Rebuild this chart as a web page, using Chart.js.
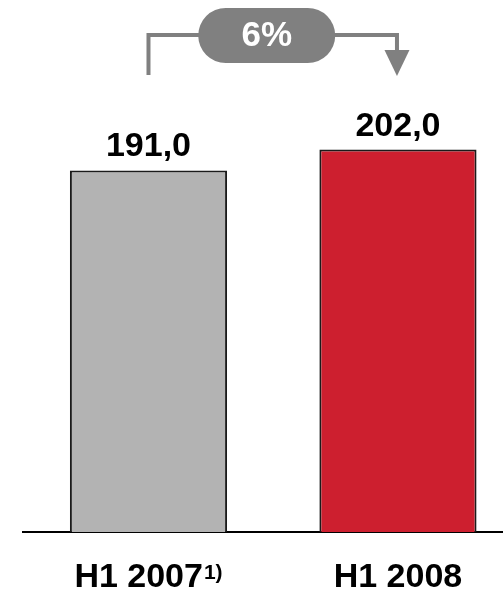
<!DOCTYPE html>
<html>
<head>
<meta charset="utf-8">
<script src="https://cdn.jsdelivr.net/npm/chart.js@4/dist/chart.umd.min.js"></script>
<style>
html,body{margin:0;padding:0;background:#fff;overflow:hidden}
#wrap{width:503px;height:593px;position:relative}
</style>
</head>
<body>
<div id="wrap"><canvas id="c"></canvas></div>
<script>
const categories = ['H1 2007', 'H1 2008'];
const categoryNotes = ['1)', ''];
const values = [191.0, 202.0];
const valueLabels = ['191,0', '202,0'];
const growthLabel = '6%';
const barColors = ['#b3b3b3', '#cd1f2f'];

const FONT = '"Liberation Sans", Arial, Helvetica, sans-serif';
const GREY = '#808080';

const overlay = {
  id: 'overlay',
  afterDatasetsDraw(chart) {
    const ctx = chart.ctx;
    const meta = chart.getDatasetMeta(0);
    const xs = chart.scales.x;
    ctx.save();
    // value labels
    ctx.fillStyle = '#000';
    ctx.font = 'bold 34px ' + FONT;
    ctx.textAlign = 'center';
    ctx.textBaseline = 'alphabetic';
    meta.data.forEach((bar, i) => {
      ctx.fillText(valueLabels[i], bar.x, bar.y - 14);
    });
    // category labels with footnote marks
    const baseY = chart.chartArea.bottom + 55;
    categories.forEach((cat, i) => {
      const cx = xs.getPixelForValue(i);
      ctx.font = 'bold 34px ' + FONT;
      const w1 = ctx.measureText(cat).width;
      let w2 = 0;
      if (categoryNotes[i]) {
        ctx.font = 'bold 21px ' + FONT;
        w2 = ctx.measureText(categoryNotes[i]).width + 1;
      }
      const left = cx - (w1 + w2) / 2;
      ctx.textAlign = 'left';
      ctx.font = 'bold 34px ' + FONT;
      ctx.fillText(cat, left, baseY);
      if (categoryNotes[i]) {
        ctx.font = 'bold 21px ' + FONT;
        ctx.fillText(categoryNotes[i], left + w1 + 1, baseY - 8);
      }
    });
    // growth bracket
    const x0 = meta.data[0].x;
    const x1 = meta.data[1].x - 1;
    const yTop = 35;
    ctx.strokeStyle = GREY;
    ctx.fillStyle = GREY;
    ctx.lineWidth = 4;
    ctx.lineCap = 'butt';
    ctx.beginPath();
    ctx.moveTo(x0, 75);
    ctx.lineTo(x0, yTop);
    ctx.lineTo(x1, yTop);
    ctx.lineTo(x1, 52);
    ctx.stroke();
    ctx.beginPath();
    ctx.moveTo(x1 - 12.5, 50);
    ctx.lineTo(x1 + 12.5, 50);
    ctx.lineTo(x1, 76);
    ctx.closePath();
    ctx.fill();
    // pill
    const pc = (x0 + x1) / 2 - 6;
    const pw = 137, ph = 55, py = 8;
    ctx.beginPath();
    ctx.roundRect(pc - pw / 2, py, pw, ph, ph / 2);
    ctx.fill();
    ctx.fillStyle = '#fff';
    ctx.font = 'bold 35px ' + FONT;
    ctx.textAlign = 'center';
    ctx.textBaseline = 'middle';
    ctx.fillText(growthLabel, pc, py + ph / 2 + 1);
    ctx.restore();
  }
};

new Chart(document.getElementById('c'), {
  type: 'bar',
  data: {
    datasets: [{
      data: values.map((v, i) => ({ x: i, y: v })),
      backgroundColor: barColors,
      borderColor: '#1a1a1a',
      borderWidth: 2,
      barPercentage: 0.63,
      categoryPercentage: 1
    }]
  },
  options: {
    responsive: true,
    maintainAspectRatio: false,
    animation: false,
    events: [],
    layout: { padding: { left: 23, right: 0, top: 0, bottom: 61 } },
    plugins: { legend: { display: false }, tooltip: { enabled: false } },
    scales: {
      x: {
        type: 'linear',
        offset: false,
        min: -0.503,
        max: 1.421,
        afterBuildTicks: (scale) => { scale.ticks = categories.map((c, i) => ({ value: i })); },
        ticks: { display: false },
        grid: { display: false, drawTicks: false },
        border: { display: true, color: '#000', width: 2 }
      },
      y: {
        display: false,
        min: 0,
        max: 281
      }
    }
  },
  plugins: [overlay]
});
</script>
</body>
</html>
